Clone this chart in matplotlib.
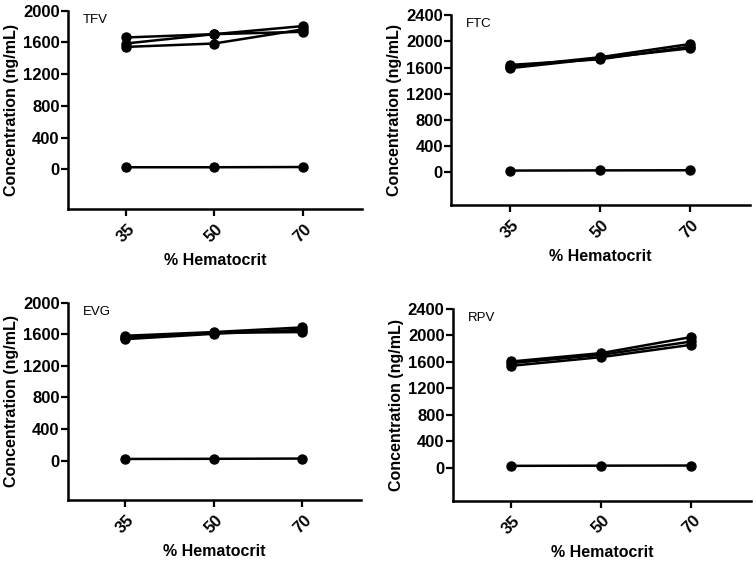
import matplotlib
matplotlib.use("Agg")
import matplotlib.pyplot as plt

plt.rcParams['font.family'] = ['Liberation Sans', 'DejaVu Sans']

hct_labels = ["35", "50", "70"]
xpos = [0, 1, 2]

# series values at 35/50/70 % hematocrit
tfv = [[1662, 1704, 1734], [1586, 1704, 1806], [1543, 1586, 1764], [25, 25, 28]]
ftc = [[1613, 1757, 1959], [1640, 1726, 1918], [1590, 1740, 1893], [25, 28, 30]]
evg = [[1583, 1630, 1689], [1540, 1608, 1659], [1560, 1620, 1630], [20, 22, 25]]
rpv = [[1606, 1733, 1976], [1582, 1707, 1909], [1541, 1672, 1859], [25, 28, 30]]

panels = [
    ("TFV", 2000, tfv, [0.090, 0.629, 0.389, 0.352]),
    ("FTC", 2400, ftc, [0.597, 0.636, 0.395, 0.337]),
    ("EVG", 2000, evg, [0.090, 0.112, 0.388, 0.350]),
    ("RPV", 2400, rpv, [0.599, 0.111, 0.395, 0.340]),
]

fig = plt.figure(figsize=(7.56, 5.63), dpi=100)

for name, ymax, series, rect in panels:
    ax = fig.add_axes(rect)
    for vals in series:
        ax.plot(xpos, vals, color='black', linewidth=1.8, marker='o',
                markersize=6.5, markerfacecolor='black', markeredgecolor='black')
    ax.set_xlim(-0.65, 2.67)
    ax.set_ylim(-500, ymax)
    ax.set_yticks(list(range(0, ymax + 1, 400)))
    ax.set_xticks(xpos)
    ax.set_xticklabels(hct_labels, rotation=45)
    for s in ['top', 'right']:
        ax.spines[s].set_visible(False)
    for s in ['left', 'bottom']:
        ax.spines[s].set_linewidth(1.8)
    ax.tick_params(axis='both', width=1.6, length=5, labelsize=12,
                   direction='out')
    ax.tick_params(axis='x', pad=4)
    ax.tick_params(axis='y', pad=1)
    for lab in ax.get_xticklabels() + ax.get_yticklabels():
        lab.set_fontweight('bold')
    ax.set_ylabel("Concentration (ng/mL)", fontsize=11.5, fontweight='bold',
                  labelpad=3)
    ax.set_xlabel("% Hematocrit", fontsize=11.5, fontweight='bold', labelpad=6)
    ax.text(0.05, 0.985, name, transform=ax.transAxes, fontsize=9.5,
            va='top', ha='left')

fig.savefig("out.png", dpi=100)
